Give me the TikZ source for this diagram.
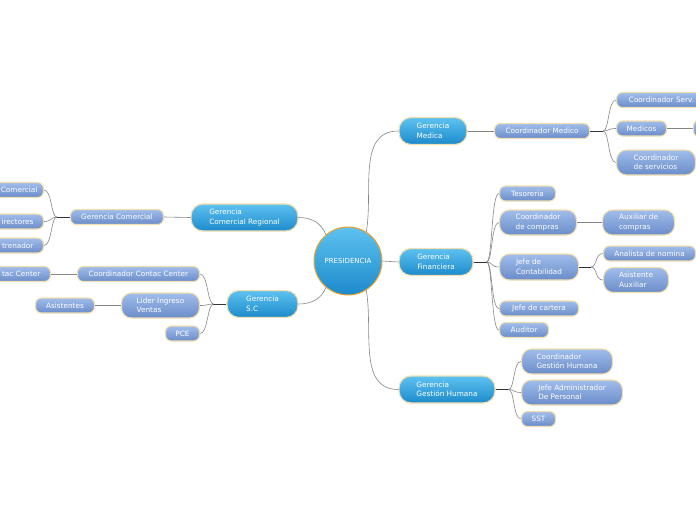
\documentclass[tikz,border=0pt]{standalone}
\usepackage{fontspec}
\setmainfont{DejaVu Sans}
\usepackage{tikz}

\definecolor{mainTop}{HTML}{5EC2F1}
\definecolor{mainBot}{HTML}{1C8ACB}
\definecolor{subTop}{HTML}{A0BDEB}
\definecolor{subBot}{HTML}{6A8CC9}
\definecolor{rim}{HTML}{F2DFAF}
\definecolor{presRim}{HTML}{F0A22A}
\definecolor{linkGray}{HTML}{858585}

\begin{document}
\begin{tikzpicture}[
  x=1pt, y=1pt,
  mainnode/.style={draw=rim, line width=1.2pt, top color=mainTop, bottom color=mainBot,
                   rounded corners=12pt, text=white, align=left,
                   font=\fontsize{7.3}{9.5}\selectfont, minimum height=27pt, inner sep=2pt},
  subnode/.style={draw=rim, line width=1.1pt, top color=subTop, bottom color=subBot,
                  rounded corners=6pt, text=white, align=left,
                  font=\fontsize{7.3}{9.5}\selectfont, minimum height=15pt,
                  inner xsep=6pt, inner ysep=1.5pt},
  tallsub/.style={subnode, rounded corners=10pt, minimum height=25pt},
  cut/.style={subnode, text width=60pt, align=right, inner xsep=10pt},
  link/.style={draw=linkGray, line width=0.6pt},
  stub/.style={draw=black!80, line width=1pt}
]
  \useasboundingbox (0,0) rectangle (696,-520);
  \clip (0,0) rectangle (696,-520);

  % Center
  \node[circle, draw=presRim, line width=1pt, top color=mainTop, bottom color=mainBot,
        minimum size=68pt, inner sep=0pt, text=white, font=\fontsize{7}{8}\selectfont]
        (pres) at (348,-261) {PRESIDENCIA};

  % Main branches
  \node[mainnode, minimum width=68pt]  (gm)  at (433,-131)   {Gerencia\\Medica};
  \node[mainnode, minimum width=74pt]  (gf)  at (436,-262)   {Gerencia\\Financiera};
  \node[mainnode, minimum width=96pt]  (gh)  at (447,-389.5) {Gerencia\\Gestión Humana};
  \node[mainnode, minimum width=107pt] (gcr) at (244.5,-217.5) {Gerencia\\Comercial Regional};
  \node[mainnode, minimum width=71pt]  (gsc) at (262.5,-304) {Gerencia\\S.C};

  % Medica
  \node[subnode, anchor=west, minimum width=95pt] (cm)   at (494,-131)   {Coordinador Medico};
  \node[subnode, anchor=west, minimum width=90pt] (cs)   at (616,-100)   {Coordinador Serv.};
  \node[subnode, anchor=west, minimum width=50pt] (med)  at (616,-128.5) {Medicos};
  \node[subnode, anchor=west, minimum width=30pt, minimum height=17pt] (medx) at (693,-128.5) {};
  \node[tallsub, anchor=west, minimum width=79pt] (csv)  at (616,-162.5) {Coordinador\\de servicios};

  % Financiera
  \node[subnode, anchor=west, minimum width=56pt] (tes)   at (499,-193.5) {Tesoreria};
  \node[tallsub, anchor=west, minimum width=77pt] (ccomp) at (499,-222.5) {Coordinador\\de compras};
  \node[tallsub, anchor=west, minimum width=72pt] (auxc)  at (602,-222.5) {Auxiliar de\\compras};
  \node[tallsub, anchor=west, minimum width=79pt, minimum height=26pt] (jc) at (499,-267) {Jefe de\\Contabilidad};
  \node[subnode, anchor=west, minimum width=92pt] (an)    at (603,-253.5) {Analista de nomina};
  \node[tallsub, anchor=west, minimum width=65pt] (asa)   at (603,-280)   {Asistente\\Auxiliar};
  \node[subnode, anchor=west, minimum width=79pt] (jca)   at (499,-308.5) {Jefe de cartera};
  \node[subnode, anchor=west, minimum width=49pt] (aud)   at (499,-330)   {Auditor};

  % Gestion Humana
  \node[tallsub, anchor=west, minimum width=91pt]  (cgh) at (521,-361.5) {Coordinador\\Gestión Humana};
  \node[tallsub, anchor=west, minimum width=101pt] (jap) at (521,-392.5) {Jefe Administrador\\De Personal};
  \node[subnode, anchor=west, minimum width=34pt]  (sst) at (521,-419)   {SST};

  % Comercial Regional
  \node[subnode, anchor=east, minimum width=93pt] (gc) at (164,-217) {Gerencia Comercial};
  \node[cut, anchor=east, inner xsep=6pt] (lc1) at (44,-190) {Comercial};
  \node[cut, anchor=east] (lc2) at (44,-221.5) {irectores};
  \node[cut, anchor=east] (lc3) at (44,-245.5) {trenador};

  % S.C
  \node[subnode, anchor=east, minimum width=122pt] (ccc) at (200,-274)   {Coordinador Contac Center};
  \node[cut, anchor=east]                          (lcc) at (51,-274)    {tac Center};
  \node[tallsub, anchor=east, minimum width=78pt]  (lid) at (200,-305.5) {Lider Ingreso\\Ventas};
  \node[subnode, anchor=east, minimum width=59pt]  (asi) at (95,-305.5)  {Asistentes};
  \node[subnode, anchor=east, minimum width=34pt]  (pce) at (200,-333.5) {PCE};

  % Links from center
  \draw[link] (pres.58) to[out=80,in=180] (gm.west);
  \draw[link] (pres.east) -- (gf.west);
  \draw[link] (pres.-58) to[out=-80,in=180] (gh.west);
  \draw[link] (pres.130) to[out=110,in=0] (gcr.east);
  \draw[link] (pres.-130) to[out=-110,in=0] (gsc.east);

  % Medica links
  \draw[link] (gm.east) -- (cm.west);
  \draw[stub] (cm.east) -- ++(13,0) coordinate (jm);
  \draw[link] (jm) .. controls +(6,0) and +(-8,0) .. (cs.west);
  \draw[link] (jm) .. controls +(6,0) and +(-8,0) .. (med.west);
  \draw[link] (jm) .. controls +(6,0) and +(-8,0) .. (csv.west);
  \draw[link] (med.east) -- (medx.west);

  % Financiera links
  \draw[stub] (gf.east) -- ++(13,0) coordinate (jf);
  \draw[link] (jf) .. controls +(6,0) and +(-8,0) .. (tes.west);
  \draw[link] (jf) .. controls +(6,0) and +(-8,0) .. (ccomp.west);
  \draw[link] (jf) .. controls +(6,0) and +(-8,0) .. (jc.west);
  \draw[link] (jf) .. controls +(6,0) and +(-8,0) .. (jca.west);
  \draw[link] (jf) .. controls +(6,0) and +(-8,0) .. (aud.west);
  \draw[link] (ccomp.east) -- (auxc.west);
  \draw[stub] (jc.east) -- ++(12,0) coordinate (jj);
  \draw[link] (jj) .. controls +(6,0) and +(-8,0) .. (an.west);
  \draw[link] (jj) .. controls +(6,0) and +(-8,0) .. (asa.west);

  % Gestion Humana links
  \draw[stub] (gh.east) -- ++(13,0) coordinate (jh);
  \draw[link] (jh) .. controls +(6,0) and +(-8,0) .. (cgh.west);
  \draw[link] (jh) .. controls +(6,0) and +(-8,0) .. (jap.west);
  \draw[link] (jh) .. controls +(6,0) and +(-8,0) .. (sst.west);

  % Comercial Regional links
  \draw[link] (gcr.west) -- (gc.east);
  \draw[stub] (gc.west) -- ++(-13,0) coordinate (jc1);
  \draw[link] (jc1) .. controls +(-6,0) and +(8,0) .. (lc1.east);
  \draw[link] (jc1) .. controls +(-6,0) and +(8,0) .. (lc2.east);
  \draw[link] (jc1) .. controls +(-6,0) and +(8,0) .. (lc3.east);

  % S.C links
  \draw[stub] (gsc.west) -- ++(-13,0) coordinate (js);
  \draw[link] (js) .. controls +(-6,0) and +(8,0) .. (ccc.east);
  \draw[link] (js) .. controls +(-6,0) and +(8,0) .. (lid.east);
  \draw[link] (js) .. controls +(-6,0) and +(8,0) .. (pce.east);
  \draw[link] (ccc.west) -- (lcc.east);
  \draw[link] (lid.west) -- (asi.east);
\end{tikzpicture}
\end{document}
